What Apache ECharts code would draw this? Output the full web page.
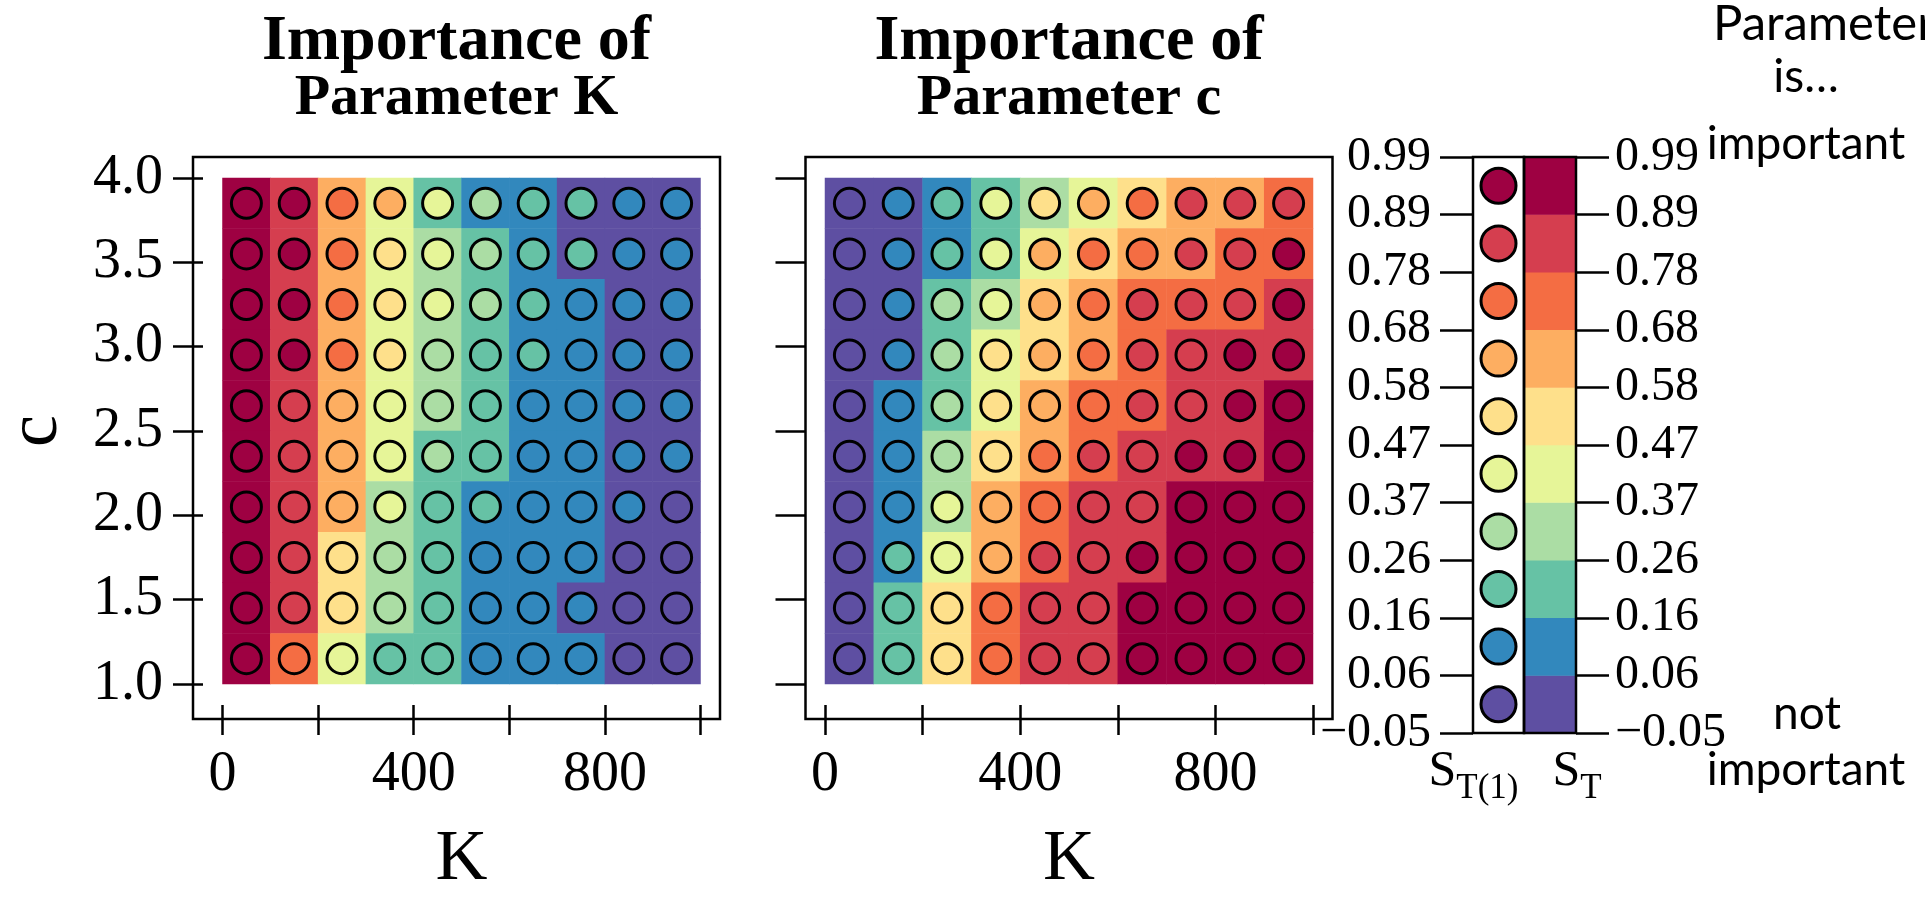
<!DOCTYPE html>
<html>
<head>
<meta charset="utf-8">
<script src="https://cdn.jsdelivr.net/npm/echarts@6/dist/echarts.min.js"></script>
<style>
html,body{margin:0;padding:0;background:#fff;overflow:hidden}
#chart{width:1925px;height:901px}
</style>
</head>
<body>
<div id="chart"></div>
<script>
// ---------- data ----------
const kCenters = ['50','150','250','350','450','550','650','750','850','950'];
const cLevels = ['3.85','3.55','3.25','2.95','2.65','2.35','2.05','1.75','1.45','1.15']; // top row first
const kTickValues = [0, 200, 400, 600, 800, 1000];
const kTickLabels = ['0', '', '400', '', '800', ''];
const cTickValues = [1.0, 1.5, 2.0, 2.5, 3.0, 3.5, 4.0];
const cTickLabels = ['1.0', '1.5', '2.0', '2.5', '3.0', '3.5', '4.0'];
const legendBreaks = [-0.05, 0.054, 0.158, 0.262, 0.366, 0.47, 0.574, 0.678, 0.782, 0.886, 0.99];
const legendTickLabels = ['\u22120.05', '0.06', '0.16', '0.26', '0.37', '0.47', '0.58', '0.68', '0.78', '0.89', '0.99'];
const legendValues = [0.00, 0.11, 0.21, 0.31, 0.42, 0.52, 0.63, 0.73, 0.84, 0.94];
const spectral = ['#5E4FA2', '#3288BD', '#66C2A5', '#ABDDA4', '#E6F598', '#FEE08B', '#FDAE61', '#F46D43', '#D53E4F', '#9E0142'];

// S_T of parameter K (background cells), rows from c=3.85 (top) to c=1.15 (bottom)
const ST_K = [
  [0.94,0.84,0.63,0.42,0.21,0.11,0.11,0.00,0.00,0.00],
  [0.94,0.84,0.63,0.42,0.31,0.21,0.11,0.00,0.00,0.00],
  [0.94,0.84,0.63,0.42,0.31,0.21,0.11,0.11,0.00,0.00],
  [0.94,0.84,0.63,0.42,0.31,0.21,0.11,0.11,0.00,0.00],
  [0.94,0.84,0.63,0.42,0.31,0.21,0.11,0.11,0.00,0.00],
  [0.94,0.84,0.63,0.42,0.21,0.21,0.11,0.11,0.00,0.00],
  [0.94,0.84,0.63,0.31,0.21,0.11,0.11,0.11,0.00,0.00],
  [0.94,0.84,0.52,0.31,0.21,0.11,0.11,0.11,0.00,0.00],
  [0.94,0.84,0.52,0.31,0.21,0.11,0.11,0.00,0.00,0.00],
  [0.94,0.73,0.42,0.21,0.21,0.11,0.11,0.11,0.00,0.00]
];
// S_T(1) of parameter K (circles)
const ST1_K = [
  [0.94,0.94,0.73,0.63,0.42,0.31,0.21,0.21,0.11,0.11],
  [0.94,0.94,0.73,0.52,0.42,0.31,0.21,0.21,0.11,0.11],
  [0.94,0.94,0.73,0.52,0.42,0.31,0.21,0.11,0.11,0.11],
  [0.94,0.94,0.73,0.52,0.31,0.21,0.21,0.11,0.11,0.11],
  [0.94,0.84,0.63,0.42,0.31,0.21,0.11,0.11,0.11,0.11],
  [0.94,0.84,0.63,0.42,0.31,0.21,0.11,0.11,0.11,0.11],
  [0.94,0.84,0.63,0.42,0.21,0.21,0.11,0.11,0.11,0.00],
  [0.94,0.84,0.52,0.31,0.21,0.11,0.11,0.11,0.00,0.00],
  [0.94,0.84,0.52,0.31,0.21,0.11,0.11,0.11,0.00,0.00],
  [0.94,0.73,0.42,0.21,0.21,0.11,0.11,0.11,0.00,0.00]
];
// S_T of parameter c (background cells)
const ST_c = [
  [0.00,0.00,0.11,0.21,0.31,0.42,0.52,0.63,0.63,0.73],
  [0.00,0.00,0.11,0.21,0.42,0.52,0.63,0.63,0.73,0.73],
  [0.00,0.00,0.21,0.31,0.52,0.63,0.73,0.73,0.73,0.84],
  [0.00,0.00,0.21,0.42,0.52,0.63,0.73,0.84,0.84,0.84],
  [0.00,0.11,0.21,0.42,0.63,0.73,0.73,0.84,0.84,0.94],
  [0.00,0.11,0.31,0.52,0.63,0.73,0.84,0.84,0.84,0.94],
  [0.00,0.11,0.31,0.63,0.73,0.84,0.84,0.94,0.94,0.94],
  [0.00,0.11,0.42,0.63,0.73,0.84,0.84,0.94,0.94,0.94],
  [0.00,0.21,0.52,0.73,0.84,0.84,0.94,0.94,0.94,0.94],
  [0.00,0.21,0.52,0.73,0.84,0.84,0.94,0.94,0.94,0.94]
];
// S_T(1) of parameter c (circles)
const ST1_c = [
  [0.00,0.11,0.21,0.42,0.52,0.63,0.73,0.84,0.84,0.84],
  [0.00,0.11,0.21,0.42,0.63,0.73,0.73,0.84,0.84,0.94],
  [0.00,0.11,0.31,0.42,0.63,0.73,0.84,0.84,0.84,0.94],
  [0.00,0.11,0.31,0.52,0.63,0.73,0.84,0.84,0.94,0.94],
  [0.00,0.11,0.31,0.52,0.63,0.73,0.84,0.84,0.94,0.94],
  [0.00,0.11,0.31,0.52,0.73,0.84,0.84,0.94,0.94,0.94],
  [0.00,0.11,0.42,0.63,0.73,0.84,0.84,0.94,0.94,0.94],
  [0.00,0.21,0.42,0.63,0.84,0.84,0.94,0.94,0.94,0.94],
  [0.00,0.21,0.52,0.73,0.84,0.84,0.94,0.94,0.94,0.94],
  [0.00,0.21,0.52,0.73,0.84,0.84,0.94,0.94,0.94,0.94]
];

// ---------- helpers ----------
const SERIF = "'Liberation Serif', 'Times New Roman', serif";
const SANS = "Lato, 'Open Sans', sans-serif";
function toCells(m) {
  const out = [];
  m.forEach((row, r) => row.forEach((v, j) => out.push([j, r, v])));
  return out;
}
const legendCells = legendValues.map((v, i) => [0, i, v]);
const pieces = spectral.map((col, i) => (
  i < spectral.length - 1
    ? { gte: legendBreaks[i], lt: legendBreaks[i + 1], color: col }
    : { gte: legendBreaks[i], lte: legendBreaks[i + 1], color: col }
));
const kFmt = v => { const i = kTickValues.indexOf(Math.round(v)); return i >= 0 ? kTickLabels[i] : ''; };
const cFmt = v => { const i = cTickValues.findIndex(t => Math.abs(t - v) < 1e-6); return i >= 0 ? cTickLabels[i] : ''; };
const lgFmt = v => legendTickLabels[Math.round(v)] || '';

const tickStyle = { show: true, inside: false, length: 30, lineStyle: { color: '#000', width: 2.5 } };
const frameGrid = { show: true, borderColor: '#000', borderWidth: 2.5, backgroundColor: 'transparent' };

function panelAxes(gFrame, gData, showYLabels) {
  const xs = [
    { gridIndex: gFrame, type: 'value', min: 0, max: 1, show: false },
    { gridIndex: gData, type: 'category', data: kCenters, show: false, position: 'top' },
    {
      gridIndex: gData, type: 'value', min: 0, max: 1000, interval: 200, position: 'bottom', offset: 21,
      axisLine: { show: false }, axisTick: tickStyle, splitLine: { show: false },
      axisLabel: { formatter: kFmt, fontFamily: SERIF, fontSize: 56, color: '#000', margin: 42, showMinLabel: true, showMaxLabel: true },
      name: 'K', nameLocation: 'middle', nameGap: 119,
      nameTextStyle: { fontFamily: SERIF, fontSize: 72, color: '#000' }
    }
  ];
  const ys = [
    { gridIndex: gFrame, type: 'value', min: 0, max: 1, show: false },
    { gridIndex: gData, type: 'category', data: cLevels, inverse: true, show: false, position: 'right' },
    {
      gridIndex: gData, type: 'value', min: 1, max: 4, interval: 0.5, position: 'left', offset: 19.5,
      axisLine: { show: false }, axisTick: tickStyle, splitLine: { show: false },
      axisLabel: { show: showYLabels, formatter: cFmt, fontFamily: SERIF, fontSize: 56, color: '#000', margin: 40 },
      name: showYLabels ? 'c' : '', nameLocation: 'middle', nameGap: 130, nameRotate: 90,
      nameTextStyle: { fontFamily: SERIF, fontSize: 72, color: '#000' }
    }
  ];
  return { xs, ys };
}
const pL = panelAxes(0, 1, true);
const pR = panelAxes(2, 3, false);

function titleItem(text, x, top, size, bold, family) {
  return {
    text, left: x, top, padding: 0, textAlign: 'center', textVerticalAlign: 'top',
    textStyle: { fontFamily: family, fontWeight: bold ? 'bold' : 'normal', fontSize: size, lineHeight: size, color: '#000' }
  };
}

const option = {
  animation: false,
  backgroundColor: '#fff',
  title: [
    titleItem('Importance of', 456.5, 10, 64, true, SERIF),
    titleItem('Parameter K', 456.5, 70, 58, true, SERIF),
    titleItem('Importance of', 1069, 10, 64, true, SERIF),
    titleItem('Parameter c', 1069, 70, 58, true, SERIF),
    titleItem('Parameter', 1824, 0, 49, false, SANS),
    titleItem('is\u2026', 1806, 54, 46, false, SANS),
    titleItem('important', 1806, 121, 46, false, SANS),
    titleItem('not', 1807, 691, 46, false, SANS),
    titleItem('important', 1806, 747, 46, false, SANS)
  ],
  grid: [
    Object.assign({ left: 193, top: 157, width: 527, height: 562 }, frameGrid),
    { left: 212.5, top: 178, width: 488, height: 520 },
    Object.assign({ left: 805.5, top: 157, width: 527, height: 562 }, frameGrid),
    { left: 825, top: 178, width: 488, height: 520 },
    Object.assign({ left: 1473, top: 157, width: 51, height: 576, z: 10 }, frameGrid),
    Object.assign({ left: 1524, top: 157, width: 52, height: 576, z: 10 }, frameGrid)
  ],
  xAxis: [
    ...pL.xs,
    ...pR.xs,
    {
      gridIndex: 4, type: 'category', data: ['S_T(1)'], axisLine: { show: false }, axisTick: { show: false },
      axisLabel: {
        margin: 4, formatter: () => '{s|S}{t|T(1)}',
        rich: {
          s: { fontFamily: SERIF, fontSize: 50, color: '#000' },
          t: { fontFamily: SERIF, fontSize: 35, color: '#000', padding: [34, 50, 0, 0] }
        }
      }
    },
    {
      gridIndex: 5, type: 'category', data: ['S_T'], axisLine: { show: false }, axisTick: { show: false },
      axisLabel: {
        margin: 4, formatter: () => '{s|S}{t|T}',
        rich: {
          s: { fontFamily: SERIF, fontSize: 50, color: '#000', padding: [0, 0, 0, 54] },
          t: { fontFamily: SERIF, fontSize: 35, color: '#000', padding: [34, 0, 0, 0] }
        }
      }
    }
  ],
  yAxis: [
    ...pL.ys,
    ...pR.ys,
    { gridIndex: 4, type: 'category', data: legendValues.map(String), show: false, position: 'right' },
    {
      gridIndex: 4, type: 'value', min: 0, max: 10, interval: 1, position: 'left',
      axisLine: { show: false }, splitLine: { show: false },
      axisTick: { show: true, inside: false, length: 33, lineStyle: { color: '#000', width: 2.5 } },
      axisLabel: { formatter: lgFmt, fontFamily: SERIF, fontSize: 48, color: '#000', margin: 42 }
    },
    { gridIndex: 5, type: 'category', data: legendValues.map(String), show: false, position: 'left' },
    {
      gridIndex: 5, type: 'value', min: 0, max: 10, interval: 1, position: 'right',
      axisLine: { show: false }, splitLine: { show: false },
      axisTick: { show: true, inside: false, length: 33, lineStyle: { color: '#000', width: 2.5 } },
      axisLabel: { formatter: lgFmt, fontFamily: SERIF, fontSize: 48, color: '#000', margin: 39 }
    }
  ],
  visualMap: {
    type: 'piecewise', show: false, dimension: 2, seriesIndex: [0, 1, 2, 3, 4, 5], pieces
  },
  series: [
    { type: 'heatmap', name: 'S_T (K)', xAxisIndex: 1, yAxisIndex: 1, data: toCells(ST_K),
      itemStyle: { borderWidth: 0 }, emphasis: { disabled: true } },
    { type: 'scatter', name: 'S_T(1) (K)', xAxisIndex: 1, yAxisIndex: 1, data: toCells(ST1_K),
      symbol: 'circle', symbolSize: 30, itemStyle: { borderColor: '#000', borderWidth: 3, opacity: 1 }, emphasis: { disabled: true } },
    { type: 'heatmap', name: 'S_T (c)', xAxisIndex: 4, yAxisIndex: 4, data: toCells(ST_c),
      itemStyle: { borderWidth: 0 }, emphasis: { disabled: true } },
    { type: 'scatter', name: 'S_T(1) (c)', xAxisIndex: 4, yAxisIndex: 4, data: toCells(ST1_c),
      symbol: 'circle', symbolSize: 30, itemStyle: { borderColor: '#000', borderWidth: 3, opacity: 1 }, emphasis: { disabled: true } },
    { type: 'scatter', name: 'legend S_T(1)', xAxisIndex: 6, yAxisIndex: 6, data: legendCells,
      symbol: 'circle', symbolSize: 35, itemStyle: { borderColor: '#000', borderWidth: 3, opacity: 1 }, emphasis: { disabled: true } },
    { type: 'heatmap', name: 'legend S_T', xAxisIndex: 7, yAxisIndex: 8, data: legendCells,
      itemStyle: { borderWidth: 0 }, emphasis: { disabled: true } }
  ]
};

const chart = echarts.init(document.getElementById('chart'));
chart.setOption(option);
</script>
</body>
</html>
